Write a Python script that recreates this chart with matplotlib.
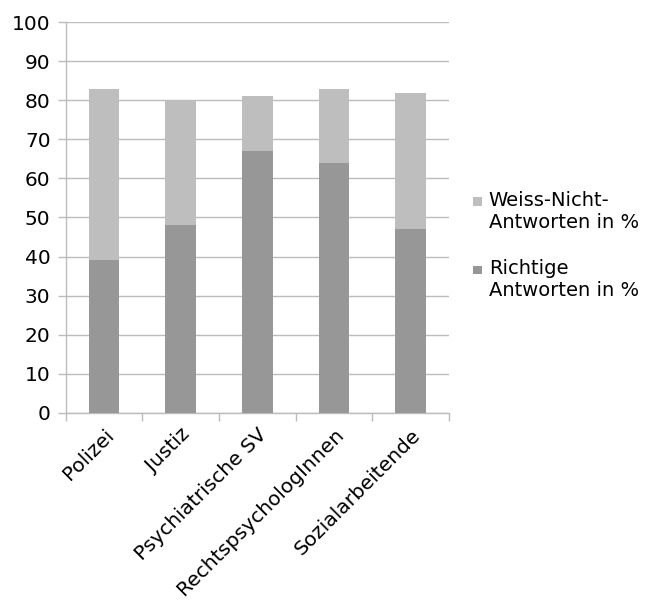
import numpy as np
import matplotlib.pyplot as plt
from matplotlib.patches import Patch, Rectangle
from matplotlib.legend_handler import HandlerBase

groups = ['Polizei', 'Justiz', 'Psychiatrische SV', 'RechtspsychologInnen', 'Sozialarbeitende']
richtige = [39, 48, 67, 64, 47]
weiss_nicht = [44, 32, 14, 19, 35]

dark = '#979797'
light = '#bebebe'
grid_c = '#bcbcbc'


class TopSquare(HandlerBase):
    # small square sitting next to the first line of a two-line label
    def create_artists(self, legend, orig_handle, xdescent, ydescent,
                       width, height, fontsize, trans):
        s = 0.45 * fontsize
        r = Rectangle((-xdescent + width - s, -ydescent + height - s - 0.05 * fontsize),
                      s, s, facecolor=orig_handle.get_facecolor(),
                      edgecolor='none', transform=trans)
        return [r]


fig = plt.figure(figsize=(6.45, 6.0), dpi=100)
ax = fig.add_axes([0.102, 0.312, 0.594, 0.651])

x = np.arange(len(groups))
ax.bar(x, richtige, width=0.4, color=dark, zorder=3)
ax.bar(x, weiss_nicht, width=0.4, bottom=richtige, color=light, zorder=3)

ax.set_xlim(-0.5, len(groups) - 0.5)
ax.set_ylim(0, 100)
ax.set_yticks(range(0, 101, 10))
ax.yaxis.grid(True, color=grid_c, linewidth=1.0, zorder=0)
ax.tick_params(axis='y', length=6, color=grid_c, width=1.0, labelsize=14.5, pad=5)

# category separators on the x axis
ax.set_xticks(x)
ax.set_xticklabels(groups, rotation=45, ha='right', rotation_mode='anchor', fontsize=14.5)
ax.set_xticks(np.arange(-0.5, len(groups)), minor=True)
ax.tick_params(axis='x', which='major', length=0, pad=9)
ax.tick_params(axis='x', which='minor', length=6, color=grid_c, width=1.0)

for s in ['top', 'right']:
    ax.spines[s].set_visible(False)
for s in ['left', 'bottom']:
    ax.spines[s].set_color(grid_c)
    ax.spines[s].set_linewidth(1.0)

handles = [Patch(color=light, label='Weiss-Nicht-\nAntworten in %'),
           Patch(color=dark, label='Richtige\nAntworten in %')]
fig.legend(handles=handles, loc='upper left', bbox_to_anchor=(0.72, 0.695),
           frameon=False, fontsize=14, handlelength=0.5, handleheight=2.2,
           handletextpad=0.35, labelspacing=1.4, borderaxespad=0,
           handler_map={Patch: TopSquare()})

fig.savefig('out.png', dpi=100)
